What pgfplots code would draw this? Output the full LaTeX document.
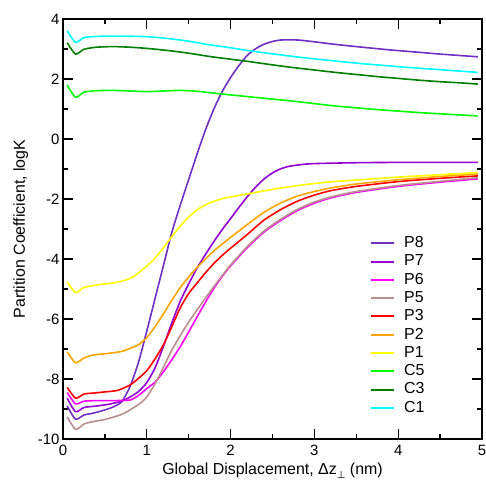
\documentclass[border=0pt]{standalone}
\usepackage{pgfplots}
\pgfplotsset{compat=1.18}
\usepackage{fontspec}
\setmainfont{Liberation Sans}
\newfontfamily\symfont{DejaVu Sans}

\definecolor{cP8}{RGB}{114,47,195}
\definecolor{cP7}{RGB}{148,0,211}
\definecolor{cP6}{RGB}{255,0,255}
\definecolor{cP5}{RGB}{188,143,143}
\definecolor{cP3}{RGB}{255,0,0}
\definecolor{cP2}{RGB}{255,165,0}
\definecolor{cP1}{RGB}{255,255,0}
\definecolor{cC5}{RGB}{0,255,0}
\definecolor{cC3}{RGB}{0,128,0}
\definecolor{cC1}{RGB}{0,255,255}

\begin{document}
\begin{tikzpicture}
\begin{axis}[
  scale only axis, width=419bp, height=420bp,
  xmin=0, xmax=5, ymin=-10, ymax=4,
  xtick={0,1,2,3,4,5}, ytick={-10,-8,-6,-4,-2,0,2,4},
  minor x tick num=1, minor y tick num=1,
  tick align=inside,
  major tick length=10bp, minor tick length=5bp,
  axis line style={line width=1.3bp},
  tick style={black, line width=1.3bp},
  tick label style={font=\fontsize{15}{18}\selectfont},
  /pgf/number format/assume math mode=true,
  xticklabel style={yshift=-3bp},
  label style={font=\fontsize{16}{19}\selectfont},
  xlabel={Global Displacement, Δz\raisebox{-0.45ex}{\symfont\fontsize{10}{10}\selectfont ⊥} (nm)},
  ylabel={Partition Coefficient, logK},
  xlabel style={at={(axis description cs:0.5,-0.0857)}, anchor=base, inner sep=0pt},
  ylabel style={at={(axis description cs:-0.0907,0.5)}, anchor=base, inner sep=0pt},
  every axis plot/.append style={line width=1.6bp, smooth, tension=0.4, line join=round},
  legend cell align=left,
  legend style={draw=none, fill=none, at={(rel axis cs:0.733,0.4845)}, anchor=north west,
    inner sep=0pt, outer sep=0pt, font=\fontsize{16}{18}\selectfont, row sep=2.8bp,
    nodes={inner ysep=0pt, inner xsep=9bp, text height=12bp, text depth=3.5bp}},
  legend image code/.code={\draw[#1, line width=2bp] (0bp,0bp) -- (23bp,0bp);},
]
% P8
\addplot[cP8] coordinates {(0.05,-8.9)(0.15,-9.34)(0.25,-9.2)(0.36,-9.14)(0.5,-9.03)(0.6,-8.93)(0.7,-8.76)(0.8,-8.25)(0.9,-7.45)(1.0,-6.4)(1.1,-5.3)(1.2,-4.2)(1.3,-3.1)(1.4,-2.2)(1.5,-1.35)(1.6,-0.5)(1.7,0.3)(1.8,1.0)(1.9,1.58)(2.0,2.05)(2.1,2.45)(2.2,2.79)(2.3,3.01)(2.4,3.16)(2.5,3.25)(2.6,3.3)(2.8,3.3)(3.0,3.24)(3.2,3.17)(3.5,3.08)(3.9,2.97)(4.25,2.89)(4.5,2.83)(4.75,2.78)(4.95,2.74)};
\addlegendentry{P8}
% P7
\addplot[cP7] coordinates {(0.05,-8.64)(0.15,-9.09)(0.25,-8.95)(0.4,-8.9)(0.55,-8.84)(0.7,-8.74)(0.8,-8.6)(0.9,-8.42)(1.0,-8.12)(1.1,-7.62)(1.2,-6.9)(1.3,-6.12)(1.4,-5.4)(1.5,-4.83)(1.6,-4.3)(1.7,-3.85)(1.8,-3.42)(1.9,-3.02)(2.0,-2.65)(2.1,-2.28)(2.2,-1.92)(2.3,-1.6)(2.4,-1.33)(2.5,-1.13)(2.6,-0.99)(2.7,-0.91)(2.85,-0.85)(3.0,-0.82)(3.5,-0.79)(4.0,-0.78)(4.5,-0.78)(4.95,-0.78)};
\addlegendentry{P7}
% P6
\addplot[cP6] coordinates {(0.05,-8.45)(0.15,-8.83)(0.25,-8.74)(0.4,-8.72)(0.6,-8.72)(0.8,-8.7)(0.9,-8.55)(1.0,-8.32)(1.1,-8.1)(1.2,-7.75)(1.3,-7.35)(1.4,-6.92)(1.5,-6.43)(1.6,-5.93)(1.7,-5.44)(1.8,-4.98)(1.9,-4.58)(2.0,-4.23)(2.2,-3.62)(2.4,-3.1)(2.6,-2.71)(2.8,-2.38)(3.0,-2.14)(3.2,-1.96)(3.5,-1.78)(4.0,-1.58)(4.5,-1.44)(4.95,-1.33)};
\addlegendentry{P6}
% P5
\addplot[cP5] coordinates {(0.05,-9.26)(0.15,-9.68)(0.25,-9.5)(0.36,-9.42)(0.5,-9.35)(0.68,-9.2)(0.8,-9.03)(0.92,-8.81)(1.0,-8.6)(1.1,-8.15)(1.2,-7.6)(1.3,-7.03)(1.4,-6.55)(1.5,-6.1)(1.6,-5.7)(1.7,-5.3)(1.8,-4.92)(1.9,-4.55)(2.0,-4.2)(2.2,-3.58)(2.4,-3.06)(2.6,-2.67)(2.8,-2.34)(3.0,-2.1)(3.2,-1.93)(3.5,-1.75)(4.0,-1.55)(4.5,-1.41)(4.95,-1.29)};
\addlegendentry{P5}
% P3
\addplot[cP3] coordinates {(0.05,-8.28)(0.15,-8.64)(0.25,-8.5)(0.36,-8.47)(0.5,-8.43)(0.65,-8.38)(0.8,-8.2)(0.9,-7.98)(1.0,-7.72)(1.1,-7.32)(1.2,-6.85)(1.3,-6.25)(1.4,-5.62)(1.5,-5.15)(1.6,-4.8)(1.7,-4.46)(1.8,-4.15)(1.9,-3.88)(2.0,-3.64)(2.2,-3.18)(2.4,-2.7)(2.6,-2.35)(2.8,-2.07)(3.0,-1.87)(3.2,-1.72)(3.5,-1.58)(4.0,-1.42)(4.5,-1.31)(4.95,-1.23)};
\addlegendentry{P3}
% P2
\addplot[cP2] coordinates {(0.05,-7.09)(0.15,-7.46)(0.25,-7.3)(0.36,-7.2)(0.56,-7.14)(0.7,-7.08)(0.8,-6.98)(0.9,-6.86)(1.0,-6.62)(1.1,-6.25)(1.2,-5.82)(1.3,-5.37)(1.4,-4.95)(1.5,-4.6)(1.6,-4.28)(1.7,-4.0)(1.8,-3.73)(1.9,-3.5)(2.0,-3.28)(2.2,-2.85)(2.4,-2.44)(2.6,-2.13)(2.8,-1.9)(3.0,-1.75)(3.2,-1.63)(3.5,-1.5)(4.0,-1.36)(4.5,-1.25)(4.95,-1.17)};
\addlegendentry{P2}
% P1
\addplot[cP1] coordinates {(0.05,-4.76)(0.15,-5.12)(0.25,-4.95)(0.44,-4.85)(0.6,-4.8)(0.75,-4.7)(0.84,-4.59)(0.95,-4.35)(1.08,-4.03)(1.2,-3.62)(1.3,-3.25)(1.4,-2.9)(1.5,-2.6)(1.6,-2.36)(1.7,-2.2)(1.8,-2.08)(1.9,-1.99)(2.0,-1.93)(2.2,-1.83)(2.5,-1.68)(2.83,-1.54)(3.19,-1.43)(3.54,-1.36)(4.0,-1.27)(4.5,-1.19)(4.95,-1.12)};
\addlegendentry{P1}
% C5
\addplot[cC5] coordinates {(0.05,1.8)(0.15,1.39)(0.25,1.56)(0.4,1.61)(0.6,1.62)(0.8,1.6)(1.0,1.58)(1.2,1.6)(1.4,1.62)(1.6,1.59)(1.8,1.53)(2.0,1.47)(2.25,1.4)(2.5,1.33)(2.75,1.26)(3.0,1.18)(3.25,1.1)(3.5,1.04)(3.75,0.98)(4.0,0.93)(4.25,0.88)(4.5,0.84)(4.75,0.8)(4.95,0.77)};
\addlegendentry{C5}
% C3
\addplot[cC3] coordinates {(0.05,3.21)(0.15,2.83)(0.25,2.99)(0.4,3.06)(0.6,3.08)(0.8,3.06)(1.0,3.02)(1.25,2.95)(1.5,2.86)(1.75,2.75)(2.0,2.66)(2.25,2.57)(2.5,2.47)(2.75,2.38)(3.0,2.3)(3.25,2.22)(3.5,2.15)(3.75,2.08)(4.0,2.02)(4.25,1.96)(4.5,1.91)(4.75,1.87)(4.95,1.83)};
\addlegendentry{C3}
% C1
\addplot[cC1] coordinates {(0.05,3.61)(0.15,3.22)(0.25,3.38)(0.4,3.42)(0.7,3.43)(1.0,3.41)(1.25,3.35)(1.5,3.26)(1.75,3.14)(2.0,3.04)(2.25,2.93)(2.5,2.84)(2.75,2.75)(3.0,2.67)(3.25,2.6)(3.5,2.53)(3.75,2.47)(4.0,2.41)(4.25,2.36)(4.5,2.31)(4.75,2.26)(4.95,2.22)};
\addlegendentry{C1}
\end{axis}
\pgfresetboundingbox
\path ([shift={(-63bp,-41bp)}]current axis.south west) rectangle ([shift={(4bp,19bp)}]current axis.north east);
\end{tikzpicture}
\end{document}
